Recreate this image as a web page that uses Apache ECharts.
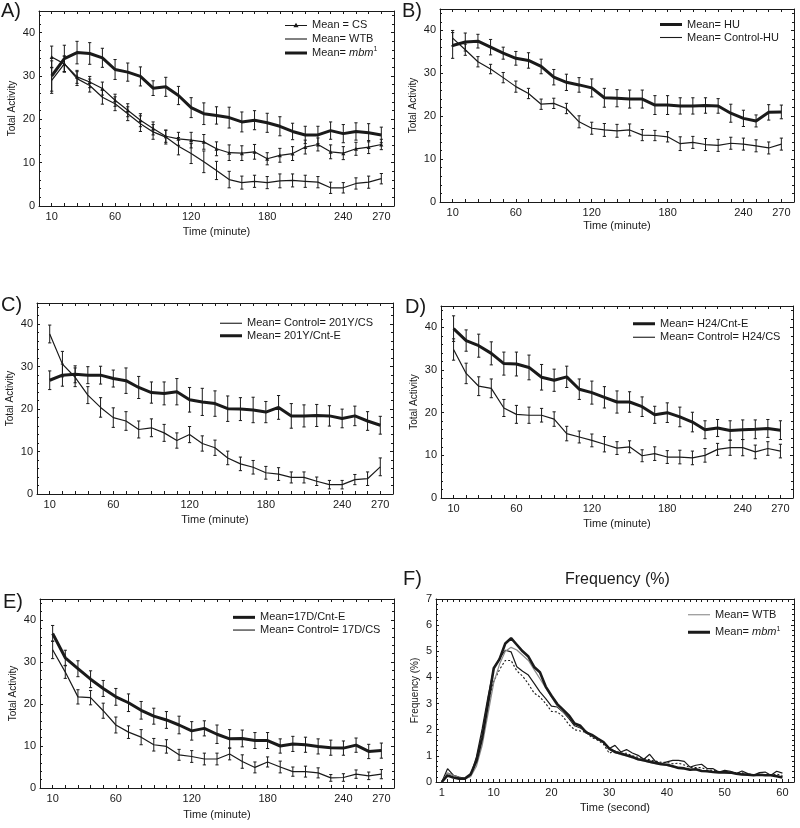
<!DOCTYPE html>
<html><head><meta charset="utf-8">
<script src="https://cdn.jsdelivr.net/npm/echarts@6/dist/echarts.min.js"></script>
<style>html,body{margin:0;padding:0;background:#fff}#c{width:800px;height:828px}</style>
</head><body><div id="c"></div>
<script>
// ---------- DATA ----------
const minutes = [10,20,30,40,50,60,70,80,90,100,110,120,130,140,150,160,170,180,190,200,210,220,230,240,250,260,270];
const minuteTickLabels = [10,60,120,180,240,270];
const seconds = [1,2,3,4,5,6,7,8,9,10,11,12,13,14,15,16,17,18,19,20,21,22,23,24,25,26,27,28,29,30,31,32,33,34,35,36,37,38,39,40,41,42,43,44,45,46,47,48,49,50,51,52,53,54,55,56,57,58,59,60];
const secondTickLabels = [1,10,20,30,40,50,60];

// Panel A
const aCS     = [34.4,32.8,29.8,28.6,27.1,24.4,22.1,19.8,17.9,16.1,15.5,15.2,14.8,13.2,12.3,12.2,12.5,10.9,11.7,12.1,13.6,14.2,12.5,12.2,13.2,13.6,14.2];
const aCSErr  = [2.5,1.8,1.5,1.3,1.5,1.4,1.5,1.5,1.5,1.4,1.5,1.8,1.7,1.6,1.8,1.7,1.7,1.4,1.6,1.6,1.6,1.5,1.6,1.5,1.5,1.5,1.2];
const aWTB    = [29.0,32.8,29.4,27.8,25.1,23.6,21.3,19.0,17.1,15.9,13.8,12.1,10.2,8.2,6.1,5.4,5.7,5.4,5.8,5.9,5.7,5.5,4.2,4.2,5.2,5.5,6.3];
const aWTBErr = [3.0,1.8,1.6,1.5,1.6,1.6,1.6,1.8,1.7,1.6,2.0,2.3,2.5,2.1,1.9,1.5,1.4,1.4,1.6,1.5,1.4,1.3,1.3,1.2,1.3,1.4,1.2];
const aMbm    = [30.0,34.0,35.4,35.2,34.2,31.5,30.9,29.9,27.2,27.5,25.5,22.7,21.3,20.9,20.4,19.4,19.8,19.2,18.4,17.2,16.4,16.4,17.4,16.7,17.2,16.9,16.4];
const aMbmErr = [3.5,3.1,2.6,2.5,2.2,2.3,2.1,2.2,1.7,2.2,2.1,2.3,2.5,2.0,2.4,2.3,2.2,2.2,2.2,1.9,2.0,2.0,2.0,2.1,2.0,2.1,1.8];

// Panel B
const bHU      = [36.5,37.3,37.5,36.1,34.7,33.5,33.0,31.6,29.1,27.9,27.3,26.6,24.3,24.2,24.0,24.0,22.6,22.6,22.4,22.4,22.5,22.4,20.7,19.5,18.9,20.9,21.0];
const bHUErr   = [3.0,2.1,1.6,1.8,1.4,1.6,1.8,1.7,1.8,1.9,1.7,2.1,2.2,2.0,2.1,2.1,2.2,2.2,1.9,1.9,1.8,1.7,2.1,1.9,1.4,1.8,1.6];
const bCtl     = [38.2,35.5,32.7,31.0,29.0,26.9,25.3,22.8,23.0,21.8,18.7,17.2,16.8,16.6,16.8,15.6,15.5,15.2,13.6,13.9,13.4,13.2,13.7,13.5,13.1,12.6,13.5];
const bCtlErr  = [1.8,1.3,1.2,1.1,1.2,1.3,1.2,1.2,1.2,1.2,1.4,1.4,1.5,1.5,1.4,1.3,1.2,1.2,1.6,1.4,1.4,1.4,1.4,1.4,1.4,1.4,1.4];

// Panel C
const cCtl     = [37.7,30.6,27.5,23.3,20.4,18.0,17.2,15.2,15.6,14.4,12.6,14.0,11.9,10.9,8.5,7.1,6.3,5.0,4.7,3.9,3.9,3.0,2.2,2.2,3.4,3.6,6.4];
const cCtlErr  = [2.1,3.0,2.2,2.0,2.3,2.3,2.2,2.0,2.1,2.0,1.8,1.9,1.8,1.8,1.6,1.6,1.6,1.5,1.5,1.3,1.3,1.0,1.0,1.0,1.2,1.6,2.1];
const cCnt     = [26.8,28.0,28.2,28.0,28.0,27.2,26.7,25.1,23.9,23.7,24.1,22.2,21.7,21.3,20.1,20.0,19.8,19.3,20.4,18.4,18.4,18.5,18.4,17.8,18.4,17.2,16.2];
const cCntErr  = [2.2,2.6,2.0,2.0,2.1,2.0,3.0,2.6,2.5,2.7,3.1,2.9,3.2,3.0,3.0,2.7,3.0,2.5,2.8,2.9,2.6,2.6,2.4,2.2,2.3,2.2,2.1];

// Panel D
const dCnt     = [39.7,36.9,35.7,33.9,31.5,31.4,30.6,28.3,27.6,28.4,25.5,24.7,23.6,22.5,22.5,21.4,19.5,20.0,19.0,17.8,16.0,16.4,15.8,16.0,16.1,16.3,15.9];
const dCntErr  = [3.0,2.5,2.7,2.7,2.7,2.8,2.9,3.0,2.6,2.5,2.4,2.7,2.5,2.6,2.4,2.3,2.0,2.3,2.3,2.3,2.1,2.0,2.3,2.3,2.2,2.1,2.2];
const dCtl     = [34.8,29.2,26.2,25.7,21.1,19.6,19.4,19.4,18.5,15.1,14.3,13.5,12.6,11.7,12.0,9.9,10.4,9.6,9.6,9.4,10.0,11.4,11.8,11.8,10.8,11.6,11.0];
const dCtlErr  = [2.5,2.4,2.2,2.2,2.0,2.1,1.9,1.6,1.7,1.7,1.4,1.5,1.8,1.5,1.4,1.4,1.6,1.5,1.6,1.6,1.6,1.4,1.8,1.9,1.6,1.6,1.6];

// Panel E
const eCnt     = [36.8,31.0,28.4,25.9,23.7,21.7,20.3,18.5,17.1,16.2,15.0,13.6,14.2,12.8,11.7,11.8,11.3,11.3,10.0,10.5,10.3,9.9,9.6,9.5,10.2,8.7,8.9];
const eCntErr  = [1.9,1.8,1.9,2.0,1.9,2.0,2.1,2.1,1.9,2.0,2.1,2.2,1.8,2.2,2.2,2.0,1.9,1.9,1.7,1.8,1.8,1.8,1.8,1.7,1.7,1.7,1.8];
const eCtl     = [32.9,27.6,21.7,21.5,18.4,15.0,13.3,12.1,10.3,9.9,7.9,7.5,6.9,6.9,8.1,6.3,4.9,6.2,5.0,3.9,3.9,3.6,2.4,2.5,3.3,2.9,3.3];
const eCtlErr  = [2.1,1.5,1.7,1.7,1.8,1.9,1.5,1.8,1.5,1.6,1.3,1.4,1.4,1.4,1.4,1.6,1.3,1.2,1.4,1.1,1.3,1.2,0.8,0.9,1.0,0.9,1.1];

// Panel F
const fMbm    = [0,0.25,0.17,0.13,0.13,0.3,0.8,1.7,3.0,4.35,4.7,5.3,5.5,5.25,5.0,4.8,4.4,4.2,3.65,3.3,2.98,2.77,2.55,2.24,2.15,1.9,1.8,1.66,1.53,1.28,1.15,1.09,1.02,0.96,0.87,0.83,0.78,0.73,0.68,0.66,0.6,0.54,0.52,0.47,0.49,0.42,0.41,0.38,0.37,0.37,0.36,0.32,0.29,0.28,0.26,0.28,0.26,0.26,0.22,0.17];
const fWTB    = [0,0.35,0.25,0.18,0.13,0.2,0.6,1.4,2.6,3.8,4.5,5.0,5.15,5.05,4.85,4.65,4.3,3.95,3.6,3.25,2.9,2.7,2.5,2.2,2.1,1.9,1.75,1.65,1.5,1.25,1.12,1.05,1.0,0.92,0.85,0.8,0.75,0.7,0.68,0.63,0.58,0.55,0.52,0.48,0.47,0.42,0.4,0.38,0.37,0.36,0.35,0.32,0.3,0.28,0.26,0.27,0.26,0.25,0.24,0.2];
const fSolid  = [0,0.51,0.26,0.19,0.13,0.26,0.96,2.04,3.26,4.34,4.73,5.04,4.98,4.41,4.24,4.09,3.77,3.45,3.19,2.9,2.87,2.68,2.43,2.15,2.07,1.94,1.75,1.63,1.53,1.28,1.4,1.15,1.24,1.11,1.02,0.87,1.06,0.79,0.7,0.77,0.83,0.83,0.79,0.57,0.64,0.68,0.51,0.51,0.38,0.45,0.41,0.32,0.42,0.32,0.26,0.36,0.38,0.26,0.41,0.34];
const fDotted = [0,0.35,0.25,0.18,0.13,0.22,0.8,1.8,3.0,3.85,4.3,4.65,4.65,4.25,4.05,3.75,3.4,3.25,3.0,2.7,2.68,2.5,2.2,2.0,1.95,1.9,1.7,1.6,1.45,1.1,1.2,1.1,1.1,1.0,0.95,0.9,0.85,0.8,0.75,0.75,0.7,0.72,0.65,0.55,0.55,0.55,0.45,0.45,0.4,0.4,0.38,0.35,0.35,0.3,0.28,0.3,0.28,0.25,0.3,0.25];

// ---------- BUILD ----------
const FONT = 'Liberation Sans, Arial, sans-serif';
const INK = '#1a1a1a';
const ICON_THICK = 'path://M0 0H22V3H0Z';
const ICON_THIN = 'path://M0 0H22V1.1H0Z';
const ICON_TRI = 'path://M0 3.5H22V4.5H0Z M11 1.2L13.6 5.6H8.4Z';
const grids = [], xAxes = [], yAxes = [], series = [], legends = [], graphics = [];

function addPanel(p) {
  const gi = grids.length;
  grids.push(Object.assign({containLabel:false, show:false}, p.grid));
  const axLine = {show:true, onZero:false, lineStyle:{color:INK, width:1}};
  const xBase = {type:'value', gridIndex:gi, min:p.xMin, max:p.xMax, interval:p.xInt, splitLine:{show:false}, axisLine:axLine,
    axisTick:{show:true, inside:true, length:3, lineStyle:{color:INK}}};
  xAxes.push(Object.assign({}, xBase, {position:'bottom',
    axisLabel:{show:true, margin:5, fontSize:11, fontFamily:FONT, color:INK, formatter:v => p.xLabels.includes(v) ? String(v) : ''},
    name:p.xName, nameLocation:'middle', nameGap:p.xNameGap, nameTextStyle:{fontSize:11, fontFamily:FONT, color:INK}}));
  xAxes.push(Object.assign({}, xBase, {position:'top', axisLabel:{show:false}}));
  const yBase = {type:'value', gridIndex:gi, min:p.yMin, max:p.yMax, interval:p.yInt, splitLine:{show:false}, axisLine:axLine,
    axisTick:{show:true, inside:true, length:3, lineStyle:{color:INK}},
    minorTick:{show:true, splitNumber:p.yMinor, length:2, lineStyle:{color:INK}}};
  yAxes.push(Object.assign({}, yBase, {position:'left',
    axisLabel:{show:true, margin:4, fontSize:11, fontFamily:FONT, color:INK, formatter:v => (v % p.yInt === 0) ? String(v) : ''},
    name:p.yName, nameLocation:'middle', nameGap:p.yNameGap, nameRotate:90, nameTextStyle:{fontSize:10, fontFamily:FONT, color:INK}}));
  yAxes.push(Object.assign({}, yBase, {position:'right', axisLabel:{show:false}}));
  return {x: xAxes.length - 2, y: yAxes.length - 2};
}

function lineSeries(ax, name, xs, ys, opt) {
  series.push({
    type:'line', name, xAxisIndex:ax.x, yAxisIndex:ax.y,
    data: xs.map((x,i) => [x, ys[i]]),
    symbol: opt.symbol || 'none', symbolSize: opt.symbolSize || 5, showSymbol: !!opt.symbol,
    lineStyle:{color:opt.color || INK, width:opt.width, type:opt.type || 'solid'},
    itemStyle:{color:opt.color || INK},
    z: opt.z || 3, silent:true, animation:false
  });
}

function errSeries(ax, xs, ys, es) {
  series.push({
    type:'custom', xAxisIndex:ax.x, yAxisIndex:ax.y, silent:true, z:2,
    data: xs.map((x,i) => [x, ys[i] - es[i], ys[i] + es[i]]),
    encode:{x:0, y:[1,2]},
    renderItem:(params, api) => {
      const x = api.value(0);
      const lo = api.coord([x, api.value(1)]);
      const hi = api.coord([x, api.value(2)]);
      const w = 1.6, st = {stroke:INK, lineWidth:1};
      return {type:'group', children:[
        {type:'line', shape:{x1:lo[0], y1:lo[1], x2:hi[0], y2:hi[1]}, style:st},
        {type:'line', shape:{x1:lo[0]-w, y1:lo[1], x2:lo[0]+w, y2:lo[1]}, style:st},
        {type:'line', shape:{x1:hi[0]-w, y1:hi[1], x2:hi[0]+w, y2:hi[1]}, style:st}
      ]};
    }
  });
}

function legend(items, left, top, lh) {
  legends.push({
    data:items.map(it => ({name:it[0], icon:it[1]})), orient:'vertical', left, top,
    itemWidth:22, itemHeight:8, itemGap:0, padding:0, selectedMode:false, symbolKeepAspect:true,
    formatter: n => { const t = n.slice(2); return t.indexOf('mbm') >= 0 ? 'Mean= {i|mbm}{s|1}' : t; },
    textStyle:{fontSize:11, fontFamily:FONT, color:INK, lineHeight:lh,
      rich:{i:{fontStyle:'italic', fontSize:11, fontFamily:FONT, color:INK, lineHeight:lh},
            s:{fontSize:7, fontFamily:FONT, color:INK, padding:[0,0,7,0], lineHeight:lh}}}
  });
}

function panelLabel(txt, x, y) {
  graphics.push({type:'text', left:x, top:y, style:{text:txt, fontSize:20, fontFamily:FONT, fill:INK}});
}

const minCfg = {xMin:0, xMax:280, xInt:10, xLabels:minuteTickLabels, yMin:0, yMax:45, yInt:10, yMinor:5,
  xName:'Time (minute)', yName:'Total Activity', yNameGap:22};

// A
let ax = addPanel(Object.assign({}, minCfg, {grid:{left:39, top:11, width:355, height:195}, xNameGap:20}));
errSeries(ax, minutes, aMbm, aMbmErr); errSeries(ax, minutes, aCS, aCSErr); errSeries(ax, minutes, aWTB, aWTBErr);
lineSeries(ax, 'A:Mean = CS', minutes, aCS, {width:1.2, symbol:'triangle', symbolSize:4});
lineSeries(ax, 'A:Mean= WTB', minutes, aWTB, {width:1.2});
lineSeries(ax, 'A:Mean= mbm', minutes, aMbm, {width:3});
legend([['A:Mean = CS', ICON_TRI],['A:Mean= WTB', ICON_THIN],['A:Mean= mbm', ICON_THICK]], 285, 18, 14);
panelLabel('A)', 1, 1);

// B
ax = addPanel(Object.assign({}, minCfg, {grid:{left:440, top:9, width:354, height:193}, xNameGap:18}));
errSeries(ax, minutes, bHU, bHUErr); errSeries(ax, minutes, bCtl, bCtlErr);
lineSeries(ax, 'B:Mean= HU', minutes, bHU, {width:3});
lineSeries(ax, 'B:Mean= Control-HU', minutes, bCtl, {width:1.2});
legend([['B:Mean= HU', ICON_THICK],['B:Mean= Control-HU', ICON_THIN]], 660, 18, 13);
panelLabel('B)', 402, 1);

// C
ax = addPanel(Object.assign({}, minCfg, {grid:{left:37, top:303, width:356, height:191}, xNameGap:20}));
errSeries(ax, minutes, cCtl, cCtlErr); errSeries(ax, minutes, cCnt, cCntErr);
lineSeries(ax, 'C:Mean= Control= 201Y/CS', minutes, cCtl, {width:1.2});
lineSeries(ax, 'C:Mean= 201Y/Cnt-E', minutes, cCnt, {width:3});
legend([['C:Mean= Control= 201Y/CS', ICON_THIN],['C:Mean= 201Y/Cnt-E', ICON_THICK]], 220, 317, 12.5);
panelLabel('C)', 1, 295);

// D
ax = addPanel(Object.assign({}, minCfg, {grid:{left:441, top:306, width:352, height:192}, xNameGap:20}));
errSeries(ax, minutes, dCnt, dCntErr); errSeries(ax, minutes, dCtl, dCtlErr);
lineSeries(ax, 'D:Mean= H24/Cnt-E', minutes, dCnt, {width:3});
lineSeries(ax, 'D:Mean= Control= H24/CS', minutes, dCtl, {width:1.2});
legend([['D:Mean= H24/Cnt-E', ICON_THICK],['D:Mean= Control= H24/CS', ICON_THIN]], 633, 317, 13.5);
panelLabel('D)', 405, 297);

// E
ax = addPanel(Object.assign({}, minCfg, {grid:{left:40, top:599, width:354, height:189}, xNameGap:21}));
errSeries(ax, minutes, eCnt, eCntErr); errSeries(ax, minutes, eCtl, eCtlErr);
lineSeries(ax, 'E:Mean=17D/Cnt-E', minutes, eCnt, {width:3});
lineSeries(ax, 'E:Mean= Control= 17D/CS', minutes, eCtl, {width:1.2});
legend([['E:Mean=17D/Cnt-E', ICON_THICK],['E:Mean= Control= 17D/CS', ICON_THIN]], 233, 611, 12.7);
panelLabel('E)', 3, 592);

// F
ax = addPanel({grid:{left:436, top:599, width:358, height:183}, xMin:0, xMax:62, xInt:1, xLabels:secondTickLabels,
  yMin:0, yMax:7, yInt:1, yMinor:5, xName:'Time (second)', yName:'Frequency (%)', xNameGap:20, yNameGap:16});
lineSeries(ax, 'F:dotted', seconds, fDotted, {width:1.1, type:[2,2]});
lineSeries(ax, 'F:solid', seconds, fSolid, {width:1.2});
lineSeries(ax, 'F:Mean= WTB', seconds, fWTB, {width:1.2, color:'#8a8a8a'});
lineSeries(ax, 'F:Mean= mbm', seconds, fMbm, {width:2.6, z:5});
legend([['F:Mean= WTB', ICON_THIN],['F:Mean= mbm', ICON_THICK]], 688, 606, 17.5);
panelLabel('F)', 403, 569);
graphics.push({type:'text', left:565, top:572, style:{text:'Frequency (%)', fontSize:16, fontFamily:FONT, fill:INK}});

const chart = echarts.init(document.getElementById('c'), null, {renderer:'canvas'});
chart.setOption({
  animation:false, backgroundColor:'#fff',
  grid:grids, xAxis:xAxes, yAxis:yAxes, series, legend:legends, graphic:graphics
});
</script></body></html>
